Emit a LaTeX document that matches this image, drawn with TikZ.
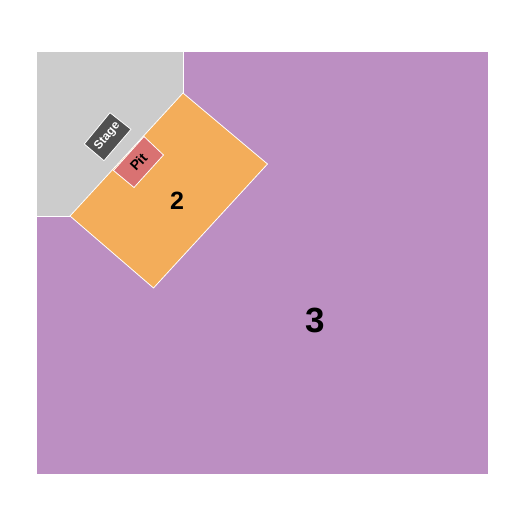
\documentclass[tikz,border=0pt]{standalone}
\usepackage{fontspec}
\setmainfont{Liberation Sans}
\definecolor{secpurple}{RGB}{188,143,194}
\definecolor{stagegray}{RGB}{204,204,204}
\definecolor{secorange}{RGB}{243,173,90}
\definecolor{pitred}{RGB}{217,114,114}
\definecolor{stagedark}{RGB}{80,80,80}
\tikzset{
  zone/.style={draw=white,line width=0.8pt,line join=round},
  lbl/.style={inner sep=0pt},
}
\begin{document}
\begin{tikzpicture}[x=1pt,y=-1pt]
\useasboundingbox (0,0) rectangle (525,525);
% section 3
\fill[secpurple] (37,52) rectangle (488,474);
% stage area
\fill[stagegray] (37,52) -- (183,52) -- (183,93) -- (70,216) -- (37,216) -- cycle;
\draw[white,line width=0.6pt] (183,52) -- (183,93);
\draw[white,line width=0.6pt] (37,216) -- (70,216);
% section 2
\filldraw[zone,fill=secorange] (183,93) -- (267.5,164) -- (153.5,288) -- (70,216) -- cycle;
% pit
\filldraw[zone,fill=pitred] (144,136.5) -- (163.5,155) -- (134,187.5) -- (113.5,170.5) -- cycle;
% stage
\filldraw[zone,fill=stagedark] (110,112.7) -- (131,129.3) -- (104,160.7) -- (84.3,144) -- cycle;
% labels
\node[lbl,text=white,rotate=50,font=\bfseries\fontsize{12}{14}\selectfont] (stage) at (107.5,136.5) {Stage};
\node[lbl,text=black,rotate=47,font=\bfseries\fontsize{14}{16}\selectfont] (pit) at (138.5,162) {Pit};
\node[lbl,font=\bfseries\fontsize{25}{28}\selectfont] (s2) at (177,201) {2};
\node[lbl,font=\bfseries\fontsize{35}{40}\selectfont] (s3) at (315,320.5) {3};
\end{tikzpicture}
\end{document}
